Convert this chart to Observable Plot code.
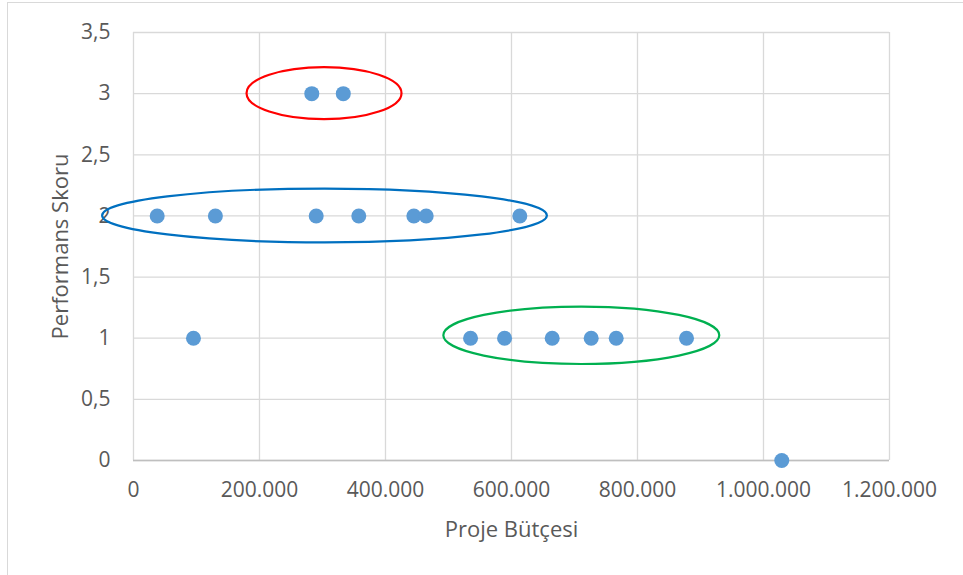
<!DOCTYPE html>
<html>
<head>
<meta charset="utf-8">
<script src="https://cdn.jsdelivr.net/npm/d3@7"></script>
<script src="https://cdn.jsdelivr.net/npm/@observablehq/plot@0.6"></script>
<style>
  html, body { margin: 0; padding: 0; background: #fff; overflow: hidden; }
  #wrap { position: relative; width: 963px; height: 575px; }
  #frame { position: absolute; left: 7px; top: 2px; width: 1000px; height: 1000px; border: 1px solid #D9D9D9; box-sizing: border-box; pointer-events: none; }
  #chart { position: absolute; left: 0; top: 0; }
</style>
</head>
<body>
<div id="wrap"><div id="frame"></div><div id="chart"></div></div>
<script>
// Data
const budget = [283000, 333000,
  37600, 130000, 290000, 357600, 445000, 464600, 613200,
  95200,
  535000, 589000, 664600, 726500, 766200, 877800,
  1029000];
const score = [3, 3,
  2, 2, 2, 2, 2, 2, 2,
  1,
  1, 1, 1, 1, 1, 1,
  0];
const xTicks = [0, 200000, 400000, 600000, 800000, 1000000, 1200000];
const yTicks = [0, 0.5, 1, 1.5, 2, 2.5, 3, 3.5];
// Highlight ellipses (center x, center y, x radius, y radius, colour)
const ellipseCx = [303200, 304000, 711600];
const ellipseCy = [3, 2, 1.02];
const ellipseRx = [123000, 353000, 219000];
const ellipseRy = [0.213, 0.22, 0.235];
const ellipseColor = ["#FF0000", "#0070C0", "#00B050"];

const points = budget.map((b, i) => ({budget: b, score: score[i]}));
const ellipses = ellipseCx.map((cx, i) => ({cx, cy: ellipseCy[i], rx: ellipseRx[i], ry: ellipseRy[i], color: ellipseColor[i]}));

const fmtX = d => d3.format(",")(d).replace(/,/g, ".");
const fmtY = d => String(d).replace(".", ",");

const font = "'Open Sans', sans-serif";
const textColor = "#595959";

const chart = Plot.plot({
  width: 963,
  height: 575,
  marginLeft: 133,
  marginRight: 74,
  marginTop: 32,
  marginBottom: 115,
  style: {fontFamily: font, background: "transparent", color: textColor},
  x: {domain: [0, 1200000]},
  y: {domain: [0, 3.5]},
  marks: [
    Plot.gridX(xTicks, {stroke: "#D9D9D9", strokeOpacity: 1, strokeWidth: 1.3}),
    Plot.gridY(yTicks, {stroke: "#D9D9D9", strokeOpacity: 1, strokeWidth: 1.3}),
    Plot.ruleY([0], {stroke: "#BFBFBF", strokeWidth: 1.3}),
    Plot.axisX({ticks: xTicks, tickFormat: fmtX, tickSize: 0, tickPadding: 22, fontSize: 21, fill: textColor, label: null}),
    Plot.axisY({ticks: yTicks, tickFormat: fmtY, tickSize: 0, tickPadding: 23, fontSize: 21, fill: textColor, label: null}),
    Plot.text(["Proje Bütçesi"], {frameAnchor: "bottom", dy: 76, fontSize: 22, fill: textColor}),
    Plot.text(["Performans Skoru"], {frameAnchor: "left", textAnchor: "middle", dx: -73, rotate: -90, fontSize: 22, fill: textColor}),
    Plot.dot(points, {x: "budget", y: "score", r: 7.5, fill: "#5B9BD5", stroke: null}),
    (index, scales) => {
      const g = d3.create("svg:g");
      for (const e of ellipses) {
        const cx = scales.x(e.cx), cy = scales.y(e.cy);
        const rx = Math.abs(scales.x(e.cx + e.rx) - cx);
        const ry = Math.abs(scales.y(e.cy + e.ry) - cy);
        g.append("ellipse")
          .attr("cx", cx).attr("cy", cy).attr("rx", rx).attr("ry", ry)
          .attr("fill", "none").attr("stroke", e.color).attr("stroke-width", 2.2);
      }
      return g.node();
    }
  ]
});
document.getElementById("chart").append(chart);
</script>
</body>
</html>
